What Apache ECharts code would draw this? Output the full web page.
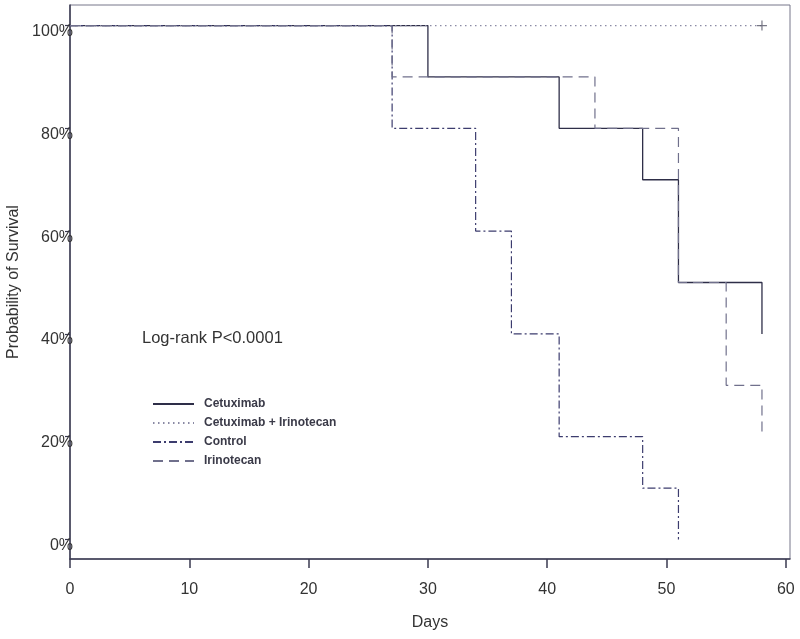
<!DOCTYPE html>
<html>
<head>
<meta charset="utf-8">
<script src="https://cdn.jsdelivr.net/npm/echarts@6/dist/echarts.min.js"></script>
<style>html,body{margin:0;padding:0;background:#fff}#c{width:800px;height:639px}</style>
</head>
<body>
<div id="c"></div>
<script>
// Data (Kaplan-Meier step points: day, survival %)
const seriesNames = ['Cetuximab', 'Cetuximab + Irinotecan', 'Control', 'Irinotecan'];
const cetuximabDays = [0, 30, 41, 48, 51, 58];
const cetuximabSurv = [100, 90, 80, 70, 50, 40];
const comboDays = [0, 58];
const comboSurv = [100, 100];
const controlDays = [0, 27, 34, 37, 41, 48, 51];
const controlSurv = [100, 80, 60, 40, 20, 10, 0];
const irinotecanDays = [0, 27, 44, 51, 55, 58];
const irinotecanSurv = [100, 90, 80, 50, 30, 20];
const censorDays = [58];
const censorSurv = [100];
const xTicks = [0, 10, 20, 30, 40, 50, 60];
const yTicks = [0, 20, 40, 60, 80, 100];

function pairs(xs, ys) { return xs.map((x, i) => [x, ys[i]]); }

const chart = echarts.init(document.getElementById('c'));
const font = 'Liberation Sans, Arial, sans-serif';
const lineDefs = [
  { name: seriesNames[0], data: pairs(cetuximabDays, cetuximabSurv), color: '#2e2e48', type: 'solid', width: 1.3 },
  { name: seriesNames[1], data: pairs(comboDays, comboSurv), color: '#8a8aa4', type: [1.5, 3.5], width: 1.2 },
  { name: seriesNames[2], data: pairs(controlDays, controlSurv), color: '#3c3c6e', type: [8, 3, 2, 3], width: 1.2 },
  { name: seriesNames[3], data: pairs(irinotecanDays, irinotecanSurv), color: '#70708c', type: [10, 6], width: 1.2 }
];
const series = lineDefs.map(d => ({
  name: d.name, type: 'line', step: 'end', data: d.data, symbol: 'none',
  lineStyle: { color: d.color, type: d.type, width: d.width },
  itemStyle: { color: d.color }, animation: false, z: 3
}));
series.push({
  name: 'censor', type: 'scatter', data: pairs(censorDays, censorSurv),
  symbol: 'path://M4.4,0H5.6V4.4H10V5.6H5.6V10H4.4V5.6H0V4.4H4.4Z', symbolSize: 10,
  itemStyle: { color: '#555566' }, animation: false, z: 4
});

chart.setOption({
  backgroundColor: '#fff',
  animation: false,
  grid: { left: 70, right: 10, top: 5, bottom: 80, show: true, borderColor: '#77778a', borderWidth: 1,
          containLabel: false, outerBoundsMode: 'none' },
  legend: {
    data: seriesNames, orient: 'vertical', left: 152, top: 398, padding: 0,
    itemWidth: 41, itemHeight: 12, itemGap: 7,
    itemStyle: { opacity: 0 },
    textStyle: { fontFamily: font, fontSize: 12, fontWeight: 'bold', color: '#3a3a48', padding: [0, 0, 0, 5] }
  },
  xAxis: {
    type: 'value', min: 0, max: 60.35,
    name: 'Days', nameLocation: 'middle', nameGap: 56,
    nameTextStyle: { fontFamily: font, fontSize: 16, color: '#333' },
    axisLine: { show: true, onZero: false, lineStyle: { color: '#3a3a50', width: 1.5 } },
    axisTick: { show: true, length: 9, customValues: xTicks, lineStyle: { color: '#3a3a50', width: 1.5 } },
    axisLabel: { customValues: xTicks, margin: 23, fontFamily: font, fontSize: 16, color: '#333' },
    splitLine: { show: false }
  },
  yAxis: {
    type: 'value', min: -3.8, max: 104,
    name: 'Probability of Survival', nameLocation: 'middle', nameGap: 46,
    nameTextStyle: { fontFamily: font, fontSize: 16, color: '#333' },
    axisLine: { show: true, onZero: false, lineStyle: { color: '#3a3a50', width: 1.5 } },
    axisTick: { show: true, length: 5, customValues: yTicks, lineStyle: { color: '#3a3a50', width: 1.2 } },
    axisLabel: { customValues: yTicks, margin: -3, verticalAlign: 'top', padding: [-2, 0, 0, 0],
                 fontFamily: font, fontSize: 16, color: '#333', formatter: v => v + '%' },
    splitLine: { show: false }
  },
  graphic: [{
    type: 'text', left: 142, top: 330,
    style: { text: 'Log-rank P<0.0001', fontFamily: font, fontSize: 16.5, fill: '#333' }
  }],
  series: series
});
</script>
</body>
</html>
